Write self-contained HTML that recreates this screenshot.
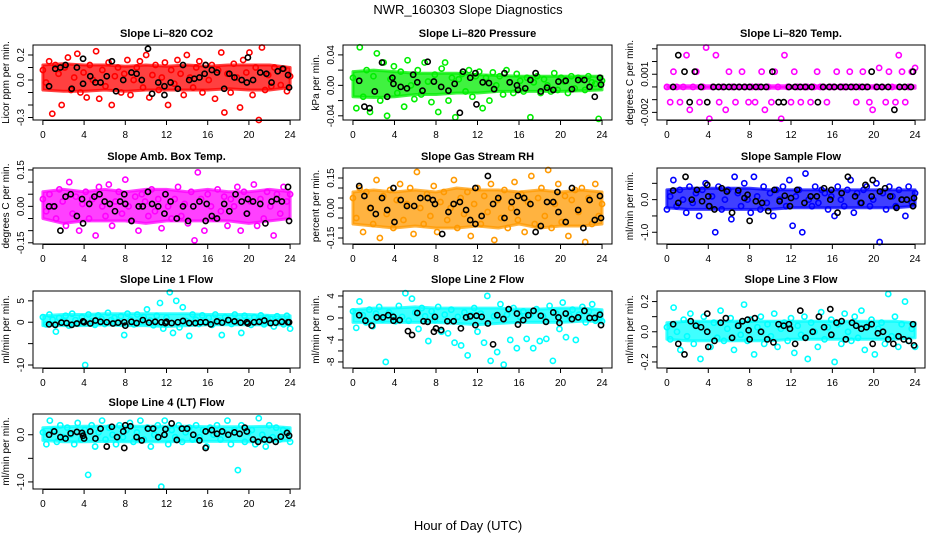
<!DOCTYPE html>
<html><head><meta charset="utf-8"><style>
html,body{margin:0;padding:0;background:#fff;}
svg{display:block;font-family:"Liberation Sans",sans-serif;}
</style></head><body>
<svg id="chart" width="936" height="540" viewBox="0 0 936 540">
<text x="468" y="14" text-anchor="middle" font-size="13">NWR_160303  Slope Diagnostics</text>
<text x="468" y="530" text-anchor="middle" font-size="13">Hour of Day (UTC)</text>
</svg>
<script>
// ---- data ----
const xTicks = [0,4,8,12,16,20,24];
const bandHours = [0,2,4,6,8,10,12,14,16,18,20,22,24];

const co2BandHi = [0.12,0.13,0.12,0.12,0.11,0.12,0.11,0.12,0.11,0.12,0.12,0.12,0.1];
const co2BandLo = [-0.08,-0.09,-0.09,-0.08,-0.09,-0.08,-0.08,-0.08,-0.08,-0.07,-0.08,-0.08,-0.06];
const co2Vals = [0.08,-0.02,0.15,-0.27,0.12,0.05,-0.2,0.1,0.18,-0.08,0.02,0.21,-0.1,0.06,-0.14,0.12,0.0,0.23,-0.15,0.08,-0.05,0.14,-0.2,0.03,0.1,-0.1,0.05,0.16,-0.12,0.0,0.1,0.15,-0.06,0.2,-0.14,0.04,0.12,-0.08,0.02,0.14,-0.2,0.08,-0.03,0.16,0.05,-0.12,0.2,0.02,-0.06,0.1,0.15,-0.1,0.12,0.0,0.12,-0.15,0.08,0.22,-0.26,0.05,-0.1,0.13,0.02,-0.22,0.16,0.06,0.22,-0.12,0.1,-0.32,0.26,-0.08,0.04,-0.05,0.1,0.07,-0.04,0.09,-0.09,0.03];
const co2BlackHours = [0.6,1.2,1.7,2.2,2.8,3.3,3.9,3.9,4.6,5.1,5.6,6.2,6.7,7.1,7.8,8.6,9.1,9.6,10.2,10.6,11.2,11.8,11.8,12.4,13.1,13.6,14.2,14.7,15.2,15.7,15.8,16.4,16.9,17.6,18.1,18.6,19.3,19.8,19.9,20.4,21.1,21.7,22.2,22.8,23.3,23.8,23.9];
const co2BlackVals = [-0.05,0.09,0.1,0.12,-0.07,0.1,0.17,-0.03,0.03,-0.02,-0.02,0.03,0.15,-0.09,0.0,0.06,0.05,0.0,0.25,-0.11,-0.02,-0.05,-0.12,-0.02,-0.07,0.12,0.0,0.01,0.02,0.05,0.12,0.08,0.06,-0.07,0.05,0.02,0.0,-0.02,0.18,0.0,0.06,0.05,-0.02,0.07,0.09,0.04,-0.06];

const presBandHi = [0.018,0.02,0.018,0.016,0.016,0.016,0.014,0.013,0.012,0.012,0.012,0.012,0.012];
const presBandLo = [-0.015,-0.016,-0.015,-0.012,-0.012,-0.01,-0.01,-0.008,-0.008,-0.008,-0.008,-0.007,-0.006];
const presVals = [0.01,-0.03,0.05,-0.015,0.02,-0.035,0.012,0.042,-0.02,0.03,-0.04,0.008,0.025,-0.01,0.018,-0.028,0.033,0.0,-0.018,0.02,-0.012,0.03,0.005,-0.022,0.014,-0.035,0.022,0.03,-0.02,0.01,-0.042,0.008,0.015,-0.008,0.02,-0.015,0.012,0.018,-0.03,0.01,-0.02,0.017,0.0,0.012,-0.012,0.02,0.004,-0.01,0.015,0.006,-0.008,0.01,-0.042,0.004,0.012,-0.01,0.008,0.0,-0.008,0.016,-0.006,0.01,0.005,-0.01,0.012,-0.004,0.01,0.008,-0.006,0.012,0.004,0.002,-0.044,0.006];
const presBlackHours = [0.6,1.1,1.6,2.1,2.8,3.3,3.8,3.9,4.6,5.2,5.8,6.2,6.7,7.2,7.8,8.5,9.2,9.8,10.3,10.6,11.3,11.8,11.9,12.5,13.1,13.6,14.6,15.1,15.8,15.9,16.6,17.1,17.6,18.1,18.7,19.3,19.8,20.5,21.1,21.7,22.3,22.8,23.3,23.8,23.9];
const presBlackVals = [0.006,-0.028,-0.03,-0.008,0.03,-0.015,0.01,0.002,-0.002,-0.004,0.014,0.004,-0.007,0.031,0.005,-0.002,-0.007,0.002,-0.036,0.018,0.01,0.016,-0.025,0.004,0.003,-0.005,0.016,0.004,0.0,-0.006,-0.004,0.007,0.016,-0.008,-0.003,-0.006,0.005,0.006,-0.005,0.007,0.007,-0.002,-0.015,0.01,0.001];

const tempBandHi = [0.0001,0.0001,0.0001,0.0001,0.0001,0.0001,0.0001,0.0001,0.0001,0.0001,0.0001,0.0001,0.0001];
const tempBandLo = [-0.0001,-0.0001,-0.0001,-0.0001,-0.0001,-0.0001,-0.0001,-0.0001,-0.0001,-0.0001,-0.0001,-0.0001,-0.0001];
const tempVals = [0,-0.0012,0.0012,0,-0.0012,0,0.0025,-0.0018,0,0.0012,-0.0012,0,0.0031,-0.0025,0,0.0025,-0.0012,0,-0.0018,0.0012,0,-0.0012,0,0.0012,0,-0.0012,0,-0.0012,0,0.0012,-0.0018,0,-0.0012,0.0012,0,-0.0025,0.0025,0,-0.0012,0.0012,0,-0.0012,0,0,-0.0012,0,0.0012,0,0,-0.0012,0,0,0.0012,0,0,0,0.0012,0,-0.0012,0,0.0012,0,-0.0012,-0.0018,0,0.0015,0,-0.0012,0.0012,0,-0.0012,0.0025,0.0012,-0.0012,0,0.0012,0.0015];
const tempBlackHours = [0.6,1.1,1.7,2.2,2.7,3.3,3.9,4.5,5.0,5.5,6.0,6.5,7.0,7.5,8.0,8.6,9.1,9.6,10.2,10.8,11.3,11.8,12.4,12.9,13.4,14.0,14.6,15.1,15.7,16.2,16.8,17.3,17.8,18.3,18.9,19.4,19.8,20.3,20.8,21.4,22.0,22.5,23.0,23.6,23.8];
const tempBlackVals = [0,0.0025,0.0012,-0.0012,0.0012,0,-0.0012,0,0,0,0,0,0,0,0,0,0,0,0.0012,-0.0012,-0.0012,0,0,0,0,0,-0.0012,0,0,0,0,0,0,0,0,0,0.0012,0,0,0,-0.0018,0,0,0,0.0012];

const ambBandHi = [0.06,0.07,0.06,0.07,0.06,0.07,0.07,0.06,0.07,0.06,0.06,0.07,0.06];
const ambBandLo = [-0.05,-0.07,-0.06,-0.06,-0.06,-0.07,-0.06,-0.06,-0.06,-0.06,-0.07,-0.06,-0.05];
const ambVals = [0.03,-0.02,0.05,0.0,-0.05,0.07,0.02,-0.08,0.1,-0.03,0.04,-0.1,0.01,0.06,-0.05,0.03,-0.12,0.08,0.0,-0.04,0.09,-0.08,0.02,0.06,-0.03,0.11,0.0,-0.06,0.04,-0.1,0.05,0.02,-0.04,0.07,-0.02,0.03,-0.09,0.05,0.0,-0.05,0.03,0.08,-0.04,0.01,-0.07,0.06,-0.14,0.14,0.03,-0.1,0.05,0.0,-0.05,0.07,-0.02,0.04,-0.08,0.03,0.0,0.08,-0.1,0.06,-0.03,0.02,0.09,-0.08,0.03,-0.05,0.06,0.0,-0.12,0.05,-0.03,0.08,0.02,0.05];
const ambBlackHours = [0.6,1.1,1.7,2.2,2.7,3.3,3.8,3.9,4.5,5.0,5.5,6.0,6.5,7.0,7.5,7.9,8.0,8.6,9.3,9.7,10.2,10.6,11.2,11.8,11.9,12.4,13.0,13.6,14.1,14.6,15.2,15.8,15.9,16.4,16.9,17.6,18.1,18.7,19.3,19.8,19.9,20.4,21.1,21.6,22.2,22.7,23.2,23.8,23.9];
const ambBlackVals = [0.0,0.0,-0.1,0.04,0.05,-0.04,0.03,-0.07,0.01,0.04,0.05,0.02,0.01,-0.02,0.02,0.05,0.01,-0.06,0.0,0.0,0.06,0.01,0.0,-0.03,0.05,0.02,-0.05,0.0,-0.06,0.0,0.02,-0.06,0.01,-0.04,-0.05,0.01,-0.02,0.05,0.02,-0.03,0.03,0.02,0.01,-0.07,0.02,0.03,0.02,0.08,-0.06];

const rhBandHi = [0.08,0.09,0.08,0.09,0.08,0.1,0.09,0.09,0.08,0.09,0.08,0.09,0.08];
const rhBandLo = [-0.08,-0.09,-0.1,-0.09,-0.1,-0.1,-0.09,-0.1,-0.08,-0.1,-0.09,-0.09,-0.08];
const rhVals = [0.05,-0.05,0.1,-0.12,0.08,0.0,-0.08,0.14,-0.15,0.06,-0.03,0.09,-0.1,0.04,0.12,-0.06,0.02,0.1,-0.13,0.18,0.0,-0.08,0.07,-0.04,0.11,-0.12,0.03,0.08,-0.06,0.0,0.14,-0.1,0.05,-0.03,0.08,-0.14,0.02,0.1,-0.08,0.06,-0.02,0.12,-0.16,0.04,-0.05,0.09,-0.1,0.0,0.13,-0.06,0.07,-0.12,0.03,0.16,-0.08,0.05,0.1,-0.04,0.19,-0.1,0.02,0.12,-0.07,0.06,-0.14,0.04,0.09,-0.02,0.1,-0.17,0.05,-0.08,0.12,-0.04,0.02];
const rhBlackHours = [0.6,1.1,1.7,2.2,2.8,3.3,3.9,4.0,4.6,5.2,5.9,6.5,7.2,7.7,7.9,8.6,9.2,9.7,10.3,10.9,11.3,11.8,11.8,12.4,13.0,13.5,14.0,14.6,15.3,15.8,15.9,16.5,17.1,17.6,18.1,18.7,19.3,19.7,19.8,20.5,21.1,21.7,22.2,22.8,23.3,23.8,23.9];
const rhBlackVals = [0.11,0.06,0.0,-0.03,0.05,-0.01,0.1,-0.07,0.04,0.01,0.01,0.05,0.05,0.04,0.02,-0.13,-0.02,0.02,0.03,-0.01,-0.06,0.1,-0.08,-0.04,0.16,0.02,0.05,-0.05,0.03,-0.02,0.06,0.05,0.02,-0.12,-0.09,0.03,0.03,0.08,-0.02,-0.07,0.1,-0.01,-0.1,0.04,-0.06,0.06,-0.05];

const sampBandHi = [0.3,0.35,0.35,0.35,0.35,0.3,0.3,0.3,0.3,0.3,0.3,0.3,0.3];
const sampBandLo = [-0.25,-0.3,-0.3,-0.3,-0.3,-0.3,-0.25,-0.25,-0.25,-0.25,-0.25,-0.25,-0.2];
const sampVals = [-0.3,0.1,0.6,-0.2,0.3,0.0,-0.4,0.4,-0.1,0.2,-0.5,0.3,0.5,-0.2,0.1,-1.0,0.4,-0.3,0.0,0.3,-0.6,0.7,0.2,-0.2,0.5,0.0,-0.4,0.7,0.1,-0.3,0.4,-0.1,0.2,-0.5,0.3,0.0,0.4,-0.2,0.6,-0.8,0.1,0.3,-1.0,0.8,0.0,-0.2,0.4,-0.1,0.3,0.2,-0.3,0.1,-0.5,0.4,0.0,-0.2,0.3,0.6,-0.4,0.2,-0.1,0.3,0.4,-0.2,0.0,0.5,-1.3,0.2,-0.3,0.4,0.1,-0.2,0.3,0.0,-0.5,0.4,-0.1,0.2];
const sampBlackHours = [0.6,1.1,1.8,2.4,2.9,3.4,3.9,4.0,4.1,4.6,5.3,5.8,6.3,6.9,7.5,7.8,8.0,8.6,9.2,9.8,10.4,10.9,11.4,11.9,12.0,12.6,13.3,13.9,14.5,15.2,15.8,15.9,16.5,16.9,17.5,18.2,18.8,19.2,19.8,19.9,20.6,21.1,21.6,22.2,22.7,23.2,23.8,23.9];
const sampBlackVals = [0.28,-0.1,0.7,0.0,0.3,-0.05,0.45,0.1,-0.2,-0.3,0.35,0.25,-0.4,0.28,0.05,0.15,-0.65,-0.05,-0.1,-0.35,0.3,-0.05,0.12,-0.2,0.05,0.3,-0.1,0.1,0.1,0.35,0.0,0.3,-0.4,0.2,0.7,0.1,-0.1,0.45,0.1,0.6,0.25,0.35,0.1,-0.25,0.0,0.0,-0.2,0.05];

const l1BandHi = [1.5,1.8,1.8,2.0,2.0,2.0,2.0,2.0,1.8,1.8,1.8,1.6,1.5];
const l1BandLo = [-0.8,-0.8,-0.8,-0.6,-0.8,-0.8,-1.0,-0.8,-0.6,-0.6,-0.6,-0.6,-0.6];
const l1Vals = [1.2,-0.5,1.8,0.6,-2.2,1.0,0.3,1.5,-0.8,2.0,0.5,-0.3,1.2,-10.0,1.8,0.2,-0.6,1.6,0.8,-0.4,2.2,0.5,1.0,-0.2,1.4,-3.0,2.0,0.6,-0.5,1.8,0.2,1.2,3.0,0.4,-0.7,1.5,4.5,-1.5,1.0,7.0,-2.5,5.0,-1.2,3.5,0.3,-3.2,1.8,0.6,-0.4,1.6,0.2,1.0,-0.6,1.8,0.4,-3.0,1.2,0.6,-0.4,1.8,0.2,-2.5,1.5,0.3,-0.6,1.2,0.4,1.6,-0.5,1.0,0.8,-1.0,1.4,0.4,-0.5,1.5,-1.5];
const l1BlackHours = [0.6,1.2,1.8,2.3,2.8,3.3,3.9,4.0,4.6,5.1,5.6,6.2,6.8,7.3,7.9,8.0,8.6,9.1,9.7,10.3,10.9,11.5,11.9,12.0,12.5,13.1,13.6,14.2,14.8,15.3,15.8,16.3,16.9,17.4,18.0,18.6,19.2,19.8,19.9,20.5,21.0,21.5,22.1,22.6,23.2,23.8,23.9];
const l1BlackVals = [-0.5,-0.6,-0.1,-0.2,-0.6,-0.3,0.2,0.0,-0.3,0.4,0.1,0.0,-0.3,-0.1,0.0,-0.8,0.1,-0.2,0.5,-0.1,0.1,0.0,-0.2,0.1,-0.2,0.0,0.3,-0.2,-0.2,0.0,0.0,-0.5,0.2,-0.1,0.5,0.2,-0.1,0.0,-0.3,0.0,0.1,0.4,-0.2,-0.1,0.1,0.0,0.0];

const l2BandHi = [1.5,1.8,1.8,2.0,1.8,1.8,1.8,1.8,1.6,1.6,1.8,1.8,1.5];
const l2BandLo = [-0.8,-0.8,-0.8,-0.8,-0.8,-1.0,-1.2,-1.0,-0.8,-0.8,-0.8,-0.6,-0.6];
const l2Vals = [1.2,-1.8,3.0,0.5,-0.8,1.5,-1.5,0.8,2.0,-0.3,-8.0,1.0,0.4,-0.6,2.2,0.2,4.5,-0.5,3.5,1.0,-2.0,1.8,0.3,-4.2,1.2,-0.4,2.0,-2.5,0.6,-2.8,1.5,-4.5,0.2,-5.0,1.0,-6.8,0.5,1.8,-2.5,0.8,-4.5,4.0,-7.8,0.3,-6.2,2.5,-8.5,0.6,-4.0,1.8,-5.5,0.2,1.2,-3.8,0.5,-5.5,1.6,-4.2,0.3,-3.8,2.2,-7.8,0.8,-2.0,2.8,-3.5,0.4,1.5,-4.0,0.6,2.0,-0.8,1.2,2.5,-0.5,0.2,-0.6];
const l2BlackHours = [0.6,1.2,1.8,2.3,2.9,3.4,3.9,3.9,4.5,5.3,5.7,6.2,6.8,7.2,7.8,7.9,8.0,8.5,9.1,9.7,10.4,10.9,11.3,11.8,11.9,12.4,13.0,13.5,13.9,14.5,15.0,15.8,15.9,16.4,16.9,17.4,18.1,18.6,19.3,19.8,19.9,20.5,21.1,21.7,22.3,22.8,23.3,23.8,23.9];
const l2BlackVals = [0.5,-0.5,-1.4,0.1,0.1,0.5,0.2,-0.5,-0.4,-2.4,-3.1,0.9,-0.6,-0.7,-2.5,0.2,-1.9,-2.2,-0.6,-0.6,-1.9,0.1,0.3,-1.3,0.4,0.2,-1.0,-4.8,0.5,-0.2,1.6,0.8,-1.2,-0.4,0.5,1.3,0.4,-0.7,1.0,0.1,-0.9,0.8,-0.2,0.1,1.3,0.0,0.0,0.6,-1.3];

const l3BandHi = [0.06,0.07,0.07,0.07,0.07,0.07,0.07,0.07,0.07,0.07,0.07,0.07,0.06];
const l3BandLo = [-0.05,-0.06,-0.06,-0.06,-0.06,-0.06,-0.05,-0.05,-0.05,-0.05,-0.05,-0.05,-0.04];
const l3Vals = [0.03,-0.05,0.16,0.0,-0.12,0.08,-0.03,0.12,-0.08,0.05,-0.18,0.1,0.0,-0.1,0.06,-0.04,0.14,-0.06,0.02,0.09,-0.12,0.04,-0.02,0.18,-0.06,0.08,-0.15,0.03,0.1,-0.08,0.05,-0.03,0.12,-0.1,0.02,0.06,-0.06,0.09,-0.14,0.04,-0.02,0.1,-0.18,0.06,0.0,-0.1,0.13,-0.05,0.03,0.08,-0.2,0.05,-0.08,0.12,0.0,-0.06,0.1,-0.04,0.14,-0.12,0.04,0.08,-0.15,0.02,0.06,-0.08,0.25,-0.03,0.1,-0.1,0.05,0.2,-0.06,0.02,-0.1];
const l3BlackHours = [0.6,1.1,1.7,2.3,2.8,3.3,3.9,3.9,4.0,4.6,5.2,5.7,6.3,6.9,7.3,7.8,7.9,8.0,8.5,9.1,9.7,10.3,10.8,11.3,11.8,11.9,12.4,12.9,13.4,14.1,14.7,15.2,15.8,15.9,16.4,16.9,17.3,17.9,18.3,18.8,19.3,19.8,19.9,20.4,20.9,21.4,21.9,22.4,22.9,23.4,23.8,23.9];
const l3BlackVals = [0.05,-0.08,-0.15,0.07,0.04,0.03,0.12,0.0,-0.1,-0.06,0.06,0.09,-0.04,0.04,0.07,0.08,0.01,-0.05,0.09,0.0,-0.05,-0.07,0.05,0.04,0.05,0.02,-0.08,0.14,-0.04,0.0,0.1,0.03,0.15,-0.02,0.06,0.07,-0.05,0.06,0.04,0.02,0.03,0.05,-0.08,-0.01,0.0,-0.05,-0.08,-0.03,-0.05,-0.06,0.05,-0.09];

const l4BandHi = [0.15,0.17,0.18,0.18,0.18,0.18,0.18,0.18,0.17,0.17,0.17,0.18,0.15];
const l4BandLo = [-0.12,-0.15,-0.15,-0.14,-0.15,-0.15,-0.15,-0.14,-0.14,-0.14,-0.15,-0.15,-0.12];
const l4Vals = [0.05,-0.2,0.3,0.1,-0.15,0.2,-0.05,0.15,0.0,-0.2,0.25,-0.1,0.1,-0.85,0.2,-0.25,0.05,0.3,-0.1,0.15,0.0,-0.2,0.2,-0.05,0.1,0.25,-0.15,0.05,0.3,-0.1,0.15,-0.25,0.0,0.2,-1.1,0.3,-0.2,0.1,-0.05,0.2,-0.15,0.05,0.15,-0.1,0.2,-0.05,0.1,-0.25,0.15,0.0,0.2,-0.1,0.05,0.3,-0.2,0.1,-0.75,0.2,-0.15,0.05,0.1,-0.2,0.35,0.0,-0.25,0.2,-0.05,0.15,-0.1,0.1,0.05,-0.15];
const l4BlackHours = [0.6,1.1,1.7,2.2,2.7,3.3,3.8,3.9,4.0,4.6,5.1,5.6,6.2,6.7,7.2,7.8,7.9,8.0,8.5,9.1,9.6,10.2,10.7,11.2,11.8,11.9,12.5,13.0,13.5,14.0,14.6,15.2,15.8,15.8,16.4,16.9,17.4,18.0,18.6,19.1,19.6,19.8,20.4,20.9,21.5,22.0,22.6,23.1,23.7,23.9];
const l4BlackVals = [0.0,0.07,-0.05,-0.08,0.03,0.06,0.04,-0.02,-0.08,0.07,-0.08,0.13,-0.25,0.17,-0.05,0.07,-0.28,0.2,0.18,-0.05,-0.12,0.13,0.13,-0.05,0.0,0.12,0.24,-0.11,0.13,0.13,0.0,-0.12,-0.28,0.07,0.1,0.02,0.07,0.0,0.05,0.02,0.15,0.07,-0.1,-0.15,-0.1,-0.11,-0.15,-0.04,0.04,-0.02];

// ---- layout (not data) ----
const panels = [
 {name:'co2',title:'Slope Li\u2013820 CO2',ylab:'Licor ppm per min.',col:'#ff0000',x0:33,x1:300,y0:45,y1:120,ymin:-0.32,ymax:0.28,ticks:[-0.3,-0.2,-0.1,0,0.1,0.2],labels:{'-0.3':'-0.3','0':'0.0','0.2':'0.2'},vals:co2Vals,bh:co2BlackHours,bv:co2BlackVals,hi:co2BandHi,lo:co2BandLo},
 {name:'pressure',title:'Slope Li\u2013820 Pressure',ylab:'kPa per min.',col:'#00ee00',x0:343,x1:612,y0:45,y1:120,ymin:-0.0455,ymax:0.053,ticks:[-0.04,-0.02,0,0.02,0.04],labels:{'-0.04':'-0.04','0':'0.00','0.04':'0.04'},vals:presVals,bh:presBlackHours,bv:presBlackVals,hi:presBandHi,lo:presBandLo},
 {name:'temp',title:'Slope Li\u2013820 Temp.',ylab:'degrees C per min.',col:'#ff00ff',x0:657,x1:925,y0:45,y1:120,ymin:-0.0026,ymax:0.0033,ticks:[-0.002,-0.001,0,0.001,0.002,0.003],labels:{'-0.002':'-0.002','0.001':'0.001'},vals:tempVals,bh:tempBlackHours,bv:tempBlackVals,hi:tempBandHi,lo:tempBandLo},
 {name:'amb-box-temp',title:'Slope Amb. Box Temp.',ylab:'degrees C per min.',col:'#ff00ff',x0:33,x1:300,y0:168,y1:244,ymin:-0.155,ymax:0.158,ticks:[-0.15,-0.1,-0.05,0,0.05,0.1,0.15],labels:{'-0.15':'-0.15','0':'0.00','0.15':'0.15'},vals:ambVals,bh:ambBlackHours,bv:ambBlackVals,hi:ambBandHi,lo:ambBandLo},
 {name:'gas-stream-rh',title:'Slope Gas Stream RH',ylab:'percent per min.',col:'#ff9900',x0:343,x1:612,y0:168,y1:244,ymin:-0.18,ymax:0.2,ticks:[-0.15,-0.1,-0.05,0,0.05,0.1,0.15],labels:{'-0.15':'-0.15','0':'0.00','0.15':'0.15'},vals:rhVals,bh:rhBlackHours,bv:rhBlackVals,hi:rhBandHi,lo:rhBandLo},
 {name:'sample-flow',title:'Slope Sample Flow',ylab:'ml/min per min.',col:'#0000ff',x0:657,x1:925,y0:168,y1:244,ymin:-1.36,ymax:0.97,ticks:[-1,-0.5,0,0.5],labels:{'-1':'-1.0','0':'0.0'},vals:sampVals,bh:sampBlackHours,bv:sampBlackVals,hi:sampBandHi,lo:sampBandLo},
 {name:'line1-flow',title:'Slope Line 1 Flow',ylab:'ml/min per min.',col:'#00ffff',x0:33,x1:300,y0:291,y1:368,ymin:-10.7,ymax:7.3,ticks:[-10,-5,0,5],labels:{'-10':'-10','0':'0','5':'5'},vals:l1Vals,bh:l1BlackHours,bv:l1BlackVals,hi:l1BandHi,lo:l1BandLo},
 {name:'line2-flow',title:'Slope Line 2 Flow',ylab:'ml/min per min.',col:'#00ffff',x0:343,x1:612,y0:291,y1:368,ymin:-9.1,ymax:4.9,ticks:[-8,-6,-4,-2,0,2,4],labels:{'-8':'-8','-4':'-4','0':'0','4':'4'},vals:l2Vals,bh:l2BlackHours,bv:l2BlackVals,hi:l2BandHi,lo:l2BandLo},
 {name:'line3-flow',title:'Slope Line 3 Flow',ylab:'ml/min per min.',col:'#00ffff',x0:657,x1:925,y0:291,y1:368,ymin:-0.24,ymax:0.27,ticks:[-0.2,-0.1,0,0.1,0.2],labels:{'-0.2':'-0.2','0':'0.0','0.2':'0.2'},vals:l3Vals,bh:l3BlackHours,bv:l3BlackVals,hi:l3BandHi,lo:l3BandLo},
 {name:'line4-flow',title:'Slope Line 4 (LT) Flow',ylab:'ml/min per min.',col:'#00ffff',x0:33,x1:300,y0:414,y1:489,ymin:-1.15,ymax:0.44,ticks:[-1,-0.5,0],labels:{'-1':'-1.0','0':'0.0'},vals:l4Vals,bh:l4BlackHours,bv:l4BlackVals,hi:l4BandHi,lo:l4BandLo}
];
const NS='http://www.w3.org/2000/svg';
const svg=document.getElementById('chart');
function mk(tag,attrs,parent){const e=document.createElementNS(NS,tag);for(const k in attrs)e.setAttribute(k,attrs[k]);parent.appendChild(e);return e;}
panels.forEach(p=>{
  const g=mk('g',{},svg);
  
  
  const xmin=-0.96,xmax=24.96;
  const xs=h=>p.x0+(h-xmin)/(xmax-xmin)*(p.x1-p.x0);
  const ys=v=>p.y1-(v-p.ymin)/(p.ymax-p.ymin)*(p.y1-p.y0);
  const t=mk('text',{x:(p.x0+p.x1)/2,y:p.y0-8,'text-anchor':'middle','font-size':'11','font-weight':'bold'},g);
  t.textContent=p.title;
  
  
  let d='';
  bandHours.forEach((h,i)=>{d+=(i?'L':'M')+xs(h).toFixed(1)+','+ys(p.hi[i]).toFixed(1);});
  for(let i=bandHours.length-1;i>=0;i--){d+='L'+xs(bandHours[i]).toFixed(1)+','+ys(p.lo[i]).toFixed(1);}
  d+='Z';
  const band=mk('path',{d:d,fill:p.col,'fill-opacity':0.75,stroke:p.col,'stroke-opacity':0.75,'stroke-width':3,'stroke-linejoin':'round'},g);
  
  
  const n=p.vals.length;
  p.vals.forEach((v,i)=>{
    const c=mk('circle',{cx:xs(i*24/(n-1)),cy:ys(v),r:2.6,fill:'none',stroke:p.col,'stroke-width':1.6},g);
    
    
  });
  p.bh.forEach((h,i)=>{
    const c=mk('circle',{cx:xs(h),cy:ys(p.bv[i]),r:2.6,fill:'none',stroke:'#000','stroke-width':1.6},g);
    
    
  });
  const box=mk('rect',{x:p.x0,y:p.y0,width:p.x1-p.x0,height:p.y1-p.y0,fill:'none',stroke:'#000','stroke-width':1},g);
  
  
  const xa=mk('g',{},g);
  
  
  xTicks.forEach(h=>{
    mk('line',{x1:xs(h),x2:xs(h),y1:p.y1,y2:p.y1+5,stroke:'#000'},xa);
    const l=mk('text',{x:xs(h),y:p.y1+18,'text-anchor':'middle','font-size':'10'},xa);
    l.textContent=h;
  });
  mk('line',{x1:xs(0),x2:xs(24),y1:p.y1+0.5,y2:p.y1+0.5,stroke:'#000'},xa);
  const ya=mk('g',{},g);
  
  
  p.ticks.forEach(v=>{
    const y=ys(v);
    mk('line',{x1:p.x0-5,x2:p.x0,y1:y,y2:y,stroke:'#000'},ya);
    const key=String(v);
    if(p.labels[key]!==undefined){
      const l=mk('text',{x:p.x0-9,y:y,'text-anchor':'middle','font-size':'10',transform:`rotate(-90 ${p.x0-9} ${y})`},ya);
      l.textContent=p.labels[key];
    }
  });
  const yl=mk('text',{x:p.x0-24,y:(p.y0+p.y1)/2,'text-anchor':'middle','font-size':'10',transform:`rotate(-90 ${p.x0-24} ${(p.y0+p.y1)/2})`},g);
  yl.textContent=p.ylab;
  
  
});
</script>
</body></html>
